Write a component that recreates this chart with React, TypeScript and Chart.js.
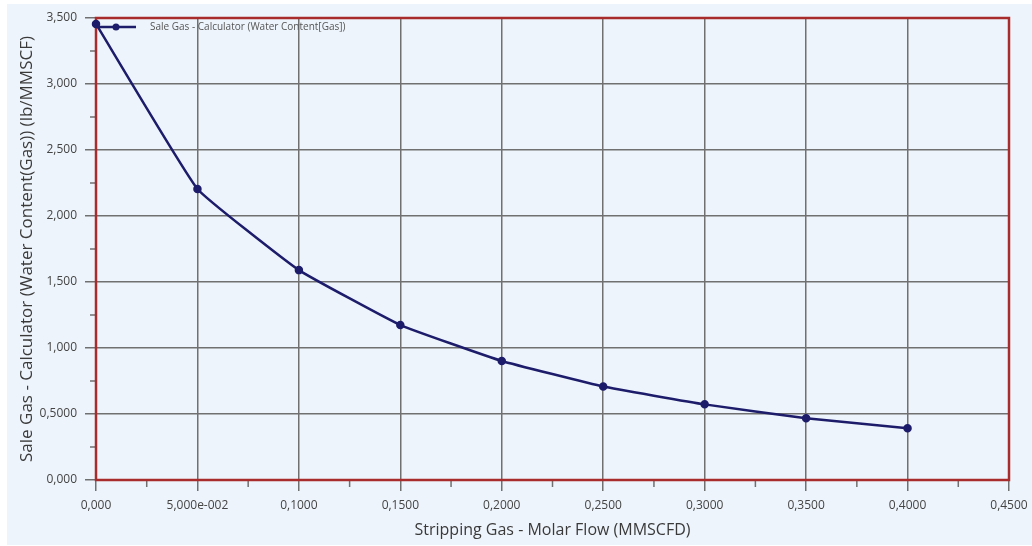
import React, { useEffect, useRef } from "react";
import { Chart, registerables } from "chart.js";

Chart.register(...registerables);

// ---- data ----
const strippingGasFlow = [0, 0.05, 0.1, 0.15, 0.2, 0.25, 0.3, 0.35, 0.4];
const waterContent = [3.455, 2.205, 1.59, 1.174, 0.902, 0.708, 0.573, 0.468, 0.392];
const xTickLabels = ["0,000", "5,000e-002", "0,1000", "0,1500", "0,2000", "0,2500", "0,3000", "0,3500", "0,4000", "0,4500"];
const yTickLabels = ["0,000", "0,5000", "1,000", "1,500", "2,000", "2,500", "3,000", "3,500"];
const xMinorTicks = [0.025, 0.075, 0.125, 0.175, 0.225, 0.275, 0.325, 0.375, 0.425];
const yMinorTicks = [0.25, 0.75, 1.25, 1.75, 2.25, 2.75, 3.25];
const seriesLabel = "Sale Gas - Calculator (Water Content[Gas])";
const xTitle = "Stripping Gas - Molar Flow (MMSCFD)";
const yTitle = "Sale Gas - Calculator (Water Content(Gas)) (lb/MMSCF)";

const LINE_COLOR = "#1c1c6b";
const GRID_COLOR = "#707070";
const BORDER_COLOR = "#a82c2c";
const FONT = "'Open Sans', 'DejaVu Sans', sans-serif";

const framePlugin = {
  id: "frameAndMinor",
  beforeDatasetsDraw(chart: any) {
    const { ctx, chartArea } = chart;
    const xs = chart.scales.x;
    const ys = chart.scales.y;
    ctx.save();
    // minor ticks
    ctx.strokeStyle = GRID_COLOR;
    ctx.lineWidth = 1.5;
    ctx.beginPath();
    xMinorTicks.forEach((v) => {
      const px = xs.getPixelForValue(v);
      ctx.moveTo(px, chartArea.bottom);
      ctx.lineTo(px, chartArea.bottom + 7);
    });
    yMinorTicks.forEach((v) => {
      const py = ys.getPixelForValue(v);
      ctx.moveTo(chartArea.left, py);
      ctx.lineTo(chartArea.left - 6, py);
    });
    ctx.stroke();
    // frame
    ctx.strokeStyle = BORDER_COLOR;
    ctx.lineWidth = 2.5;
    ctx.strokeRect(chartArea.left, chartArea.top, chartArea.right - chartArea.left, chartArea.bottom - chartArea.top);
    ctx.restore();
  },
  afterDatasetsDraw(chart: any) {
    const { ctx, chartArea } = chart;
    ctx.save();
    const y = chartArea.top + 9;
    const x0 = chartArea.left;
    ctx.strokeStyle = LINE_COLOR;
    ctx.lineWidth = 2.5;
    ctx.beginPath();
    ctx.moveTo(x0, y);
    ctx.lineTo(x0 + 40, y);
    ctx.stroke();
    ctx.fillStyle = LINE_COLOR;
    ctx.beginPath();
    ctx.arc(x0 + 20, y, 3.5, 0, Math.PI * 2);
    ctx.fill();
    ctx.fillStyle = "#555";
    ctx.font = `10px ${FONT}`;
    ctx.textBaseline = "middle";
    ctx.textAlign = "left";
    ctx.fillText(seriesLabel, x0 + 54, y);
    ctx.restore();
  },
};

export default function App() {
  const ref = useRef<HTMLCanvasElement | null>(null);
  useEffect(() => {
    if (!ref.current) return;
    const chart = new Chart(ref.current, {
      type: "line",
      data: {
        datasets: [
          {
            label: seriesLabel,
            data: strippingGasFlow.map((x, i) => ({ x, y: waterContent[i] })),
            borderColor: LINE_COLOR,
            backgroundColor: LINE_COLOR,
            borderWidth: 2.5,
            pointRadius: 3,
            pointBackgroundColor: LINE_COLOR,
            pointBorderColor: LINE_COLOR,
            tension: 0.1,
            clip: false as any,
          },
        ],
      },
      options: {
        responsive: false,
        animation: false,
        layout: { padding: { left: 0, top: 14, right: 23, bottom: 0 } },
        plugins: {
          legend: { display: false },
          tooltip: { enabled: false },
        },
        scales: {
          x: {
            type: "linear",
            min: 0,
            max: 0.45,
            afterFit: (s: any) => {
              s.height = 65;
              s.paddingLeft = 0;
              s.paddingRight = 0;
            },
            afterBuildTicks: (s: any) => {
              s.ticks = xTickLabels.map((_, i) => ({ value: i * 0.05 }));
            },
            ticks: {
              color: "#444",
              font: { family: FONT, size: 12 },
              padding: 7,
              maxRotation: 0,
              autoSkip: false,
              callback: (_v: any, i: number) => xTickLabels[i],
            },
            grid: { color: GRID_COLOR, lineWidth: 1.5, tickLength: 11, drawTicks: true },
            border: { display: false },
            title: {
              display: true,
              text: xTitle,
              color: "#3a3a3a",
              font: { family: FONT, size: 16 },
              padding: { top: 5, bottom: 5 },
            },
          },
          y: {
            type: "linear",
            min: 0,
            max: 3.5,
            afterFit: (s: any) => {
              s.width = 89;
              s.paddingTop = 0;
              s.paddingBottom = 0;
            },
            afterBuildTicks: (s: any) => {
              s.ticks = yTickLabels.map((_, i) => ({ value: i * 0.5 }));
            },
            ticks: {
              color: "#444",
              font: { family: FONT, size: 12 },
              padding: 8,
              autoSkip: false,
              callback: (_v: any, i: number) => yTickLabels[i],
            },
            grid: { color: GRID_COLOR, lineWidth: 1.5, tickLength: 11, drawTicks: true },
            border: { display: false },
            title: {
              display: true,
              text: yTitle,
              color: "#3a3a3a",
              font: { family: FONT, size: 17 },
              padding: { top: 10, bottom: 6 },
            },
          },
        },
      },
      plugins: [framePlugin],
    });
    return () => chart.destroy();
  }, []);

  return (
    <div style={{ position: "absolute", left: 0, top: 0, width: 1032, height: 546, background: "#ffffff" }}>
      <div style={{ position: "absolute", left: 7, top: 4, width: 1025, height: 541, background: "#eef4fb" }}>
        <canvas ref={ref} width={1025} height={541} style={{ display: "block" }} />
      </div>
    </div>
  );
}
